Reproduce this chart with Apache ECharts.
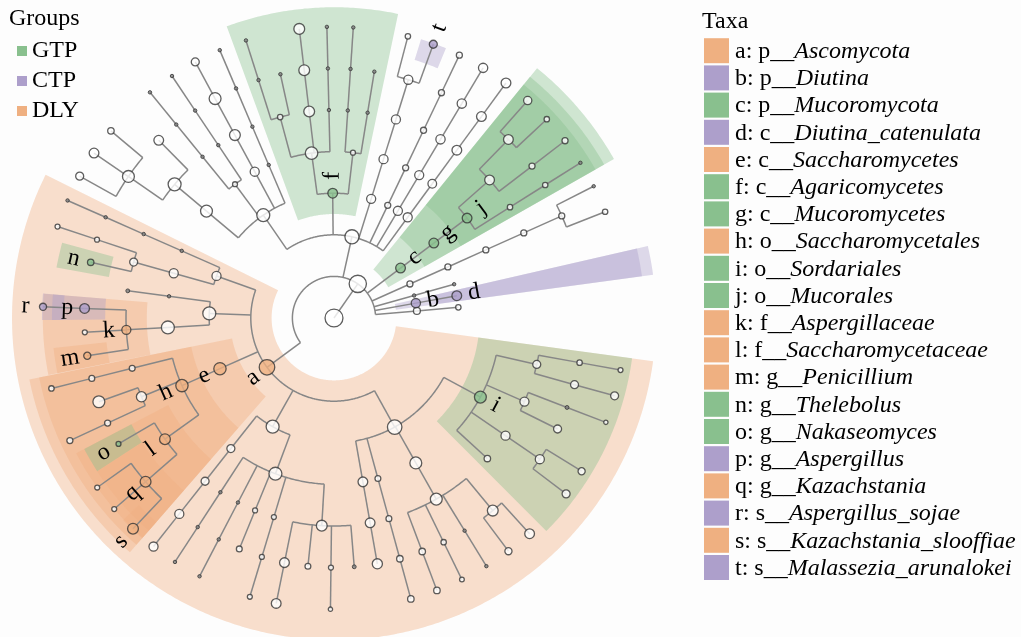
<!DOCTYPE html>
<html>
<head>
<meta charset="utf-8">
<title>Cladogram</title>
<script src="https://cdn.jsdelivr.net/npm/echarts@6.0.0/dist/echarts.min.js"></script>
<style>
html, body { margin: 0; padding: 0; background: #fdfdfd; }
#chart { width: 1021px; height: 637px; }
</style>
</head>
<body>
<div id="chart"></div>
<script>
// ---------------- data ----------------
const groupNames = ['GTP', 'CTP', 'DLY'];

// Biomarker taxa (letter, rank prefix, taxon, enriched group)
const markerLetters = ['a','b','c','d','e','f','g','h','i','j','k','l','m','n','o','p','q','r','s','t'];
const markerRanks = ['p','p','p','c','c','c','c','o','o','o','f','f','g','g','g','g','g','s','s','s'];
const markerNames = ['Ascomycota','Diutina','Mucoromycota','Diutina_catenulata','Saccharomycetes',
  'Agaricomycetes','Mucoromycetes','Saccharomycetales','Sordariales','Mucorales','Aspergillaceae',
  'Saccharomycetaceae','Penicillium','Thelebolus','Nakaseomyces','Aspergillus','Kazachstania',
  'Aspergillus_sojae','Kazachstania_slooffiae','Malassezia_arunalokei'];
const markerGroups = ['DLY','CTP','GTP','CTP','DLY','GTP','GTP','DLY','GTP','GTP','DLY','DLY','DLY',
  'GTP','GTP','CTP','DLY','CTP','DLY','CTP'];

// Taxonomy tree: [taxon, parent, log abundance, leaf angle in degrees]
const coreNodes = [
  ['root', null, 8.3],
  ['Fungi', 'root', 8]
];
const minorPhyla = [
  ['u1_p', 'Fungi', 3.2], ['u1_c', 'u1_p', 2.5, 4.9],
  ['Diutina', 'Fungi', 4.3], ['Diutina_catenulata', 'Diutina', 4.5, 10.3],
  ['u2_p', 'Fungi', 1.6], ['u2_c', 'u2_p', 1.6, 15.7],
  ['u3_p', 'Fungi', 2.8], ['u3_c', 'u3_p', 2.8], ['u3_o', 'u3_c', 2.8], ['u3_f', 'u3_o', 2.8],
  ['u3_g', 'u3_f', 2.8], ['u3_s1', 'u3_g', 2.5, 21.4], ['u3_s2', 'u3_g', 1.6, 26.9]
];
const mucoromycota = [
  ['Mucoromycota', 'Fungi', 4.5], ['Mucoromycetes', 'Mucoromycota', 4.5], ['Mucorales', 'Mucoromycetes', 4.5],
  ['mu_f1', 'Mucorales', 4.5], ['mu_g1', 'mu_f1', 4.5], ['mu_s1', 'mu_g1', 3.8, 48.3], ['mu_s2', 'mu_g1', 2.5, 43.05],
  ['mu_g2', 'mu_f1', 2.8], ['mu_s3', 'mu_g2', 2.8, 37.5],
  ['mu_f2', 'Mucorales', 2.5], ['mu_g3', 'mu_f2', 2.5], ['mu_s4', 'mu_g3', 1.6, 32.2]
];
const basidiomycota = [
  ['Basidiomycota', 'Fungi', 6.5],
  ['bd_c', 'Basidiomycota', 4.2], ['bd_o', 'bd_c', 4], ['bd_f', 'bd_o', 4.5], ['bd_g', 'bd_f', 4.5], ['bd_s', 'bd_g', 4.5, 53.8],
  ['bc_c', 'Basidiomycota', 4.2], ['bc_o', 'bc_c', 4.2], ['bc_f', 'bc_o', 4.3], ['bc_g', 'bc_f', 4.3], ['bc_s', 'bc_g', 4.3, 59.2],
  ['bb_c', 'Basidiomycota', 2.8], ['bb_o', 'bb_c', 2.8], ['bb_f', 'bb_o', 2.8], ['bb_g', 'bb_f', 2.8], ['bb_s', 'bb_g', 2.8, 64.5],
  ['ba_c', 'Basidiomycota', 4.2], ['ba_o', 'ba_c', 4.2], ['ba_f', 'ba_o', 4.2], ['ba_g', 'ba_f', 4.2],
  ['ba_s', 'ba_g', 2.5, 75.3], ['Malassezia_arunalokei', 'ba_g', 3.7, 70.06],
  ['Agaricomycetes', 'Basidiomycota', 4.5],
  ['ag_o1', 'Agaricomycetes', 2.3], ['ag_f1', 'ag_o1', 1.6], ['ag_g1', 'ag_f1', 1.6, 80.7],
  ['ag_f2', 'ag_o1', 1.6], ['ag_g2', 'ag_f2', 1.6], ['ag_s2', 'ag_g2', 1.6, 86.2],
  ['ag_o2', 'Agaricomycetes', 5.8], ['ag_f3', 'ag_o2', 1.6], ['ag_g3', 'ag_f3', 1.6], ['ag_s3', 'ag_g3', 1.6, 91.4],
  ['ag_f4', 'ag_o2', 5], ['ag_g4', 'ag_f4', 5], ['ag_s4', 'ag_g4', 5, 96.85],
  ['ag_f5', 'ag_o2', 2.5], ['ag_g5', 'ag_f5', 1.6, 102.4], ['ag_g6', 'ag_f5', 1.6], ['ag_s6', 'ag_g6', 1.6, 107.6],
  ['by_c', 'Basidiomycota', 6],
  ['by_o1', 'by_c', 1.6], ['by_f1', 'by_o1', 1.6], ['by_g1', 'by_f1', 1.6], ['by_s1', 'by_g1', 1.6, 113.1],
  ['by_o2', 'by_c', 4.2], ['by_f2', 'by_o2', 5], ['by_g2', 'by_f2', 5.5], ['by_s2', 'by_g2', 3.7, 118.45],
  ['by_o3', 'by_c', 2.3], ['by_f3', 'by_o3', 1.6], ['by_g3', 'by_f3', 1.6], ['by_s3', 'by_g3', 1.6, 123.8],
  ['by_f4', 'by_o3', 1.6], ['by_g4', 'by_f4', 1.6], ['by_s4', 'by_g4', 1.6, 129.2],
  ['by_o4', 'by_c', 5.5], ['by_f5', 'by_o4', 6], ['by_g5', 'by_f5', 4.5, 134.6], ['by_g6', 'by_f5', 5.5],
  ['by_s6a', 'by_g6', 3, 140.0], ['by_s6b', 'by_g6', 4.5, 145.5], ['by_s6c', 'by_g6', 3.7, 150.85]
];
const ascomycota = [
  ['Ascomycota', 'Fungi', 7.2],
  ['as_c1', 'Ascomycota', 4.2],
  ['as_o1', 'as_c1', 1.6], ['as_f1', 'as_o1', 1.6], ['as_g1', 'as_f1', 1.6], ['as_s1', 'as_g1', 1.6, 156.2],
  ['as_o2', 'as_c1', 4.2], ['as_f2', 'as_o2', 3.7], ['as_g2', 'as_f2', 2.3], ['as_s2', 'as_g2', 2.3, 161.7],
  ['Thelebolus', 'as_f2', 3, 167.1],
  ['as_c2', 'Ascomycota', 6],
  ['as_o3', 'as_c2', 1.6], ['as_f3', 'as_o3', 1.8, 172.5],
  ['as_o4', 'as_c2', 6], ['Aspergillaceae', 'as_o4', 4.2], ['Aspergillus', 'Aspergillaceae', 4.5],
  ['Aspergillus_sojae', 'Aspergillus', 3.3, 177.8], ['as_g4', 'Aspergillaceae', 2.3, 183.3],
  ['Penicillium', 'Aspergillaceae', 3.3, 188.7],
  ['Saccharomycetes', 'Ascomycota', 5.7], ['Saccharomycetales', 'Saccharomycetes', 5.7],
  ['sa_f1', 'Saccharomycetales', 2.7], ['sa_g1', 'sa_f1', 2.7], ['sa_s1', 'sa_g1', 2.5, 194.0],
  ['sa_f2', 'Saccharomycetales', 4.7], ['sa_g2', 'sa_f2', 5.5, 199.6], ['sa_g3', 'sa_f2', 2.8], ['sa_s3', 'sa_g3', 2.8, 204.9],
  ['Saccharomycetaceae', 'Saccharomycetales', 5], ['Nakaseomyces', 'Saccharomycetaceae', 2.3, 210.3],
  ['Kazachstania', 'Saccharomycetaceae', 5], ['ka_s1', 'Kazachstania', 2.3, 215.6], ['ka_s2', 'Kazachstania', 2.3, 221.0],
  ['Kazachstania_slooffiae', 'Kazachstania', 5, 226.35],
  ['as_c4', 'Ascomycota', 6],
  ['as_o5', 'as_c4', 3.7], ['as_f5', 'as_o5', 3.7], ['as_g5', 'as_f5', 4.2], ['as_s5', 'as_g5', 4.2, 231.7],
  ['as_o6', 'as_c4', 6],
  ['as_f6', 'as_o6', 1.6], ['as_g6', 'as_f6', 1.6], ['as_s6', 'as_g6', 1.6, 236.9],
  ['as_f7', 'as_o6', 1.6], ['as_g7', 'as_f7', 1.6], ['as_s7', 'as_g7', 1.6, 242.5],
  ['as_f8', 'as_o6', 2.3], ['as_g8', 'as_f8', 2.7, 247.7],
  ['as_f9', 'as_o6', 2.3], ['as_g9', 'as_f9', 2.3], ['as_s9', 'as_g9', 2.3, 253.2],
  ['as_f10', 'as_o6', 5], ['as_g10', 'as_f10', 4.5], ['as_s10', 'as_g10', 4.5, 258.55],
  ['as_g11', 'as_f10', 2.7, 264.0], ['as_g12', 'as_f10', 2.3], ['as_s12', 'as_g12', 2, 269.3],
  ['as_g13', 'as_f10', 1.8, 274.65],
  ['as_c5', 'Ascomycota', 6.7],
  ['as_o7', 'as_c5', 4.5], ['as_f14', 'as_o7', 4.5], ['as_g14', 'as_f14', 4.7, 280.0],
  ['as_o8', 'as_c5', 2.7], ['as_f15', 'as_o8', 2.7], ['as_g15', 'as_f15', 3], ['as_s15', 'as_g15', 3, 285.3],
  ['as_o9', 'as_c5', 5.5], ['as_f16', 'as_o9', 5.5],
  ['as_g16', 'as_f16', 3], ['as_s16', 'as_g16', 3, 290.7],
  ['as_g17', 'as_f16', 2.5], ['as_s17', 'as_g17', 2.2, 296.06],
  ['as_g18', 'as_f16', 1.6], ['as_s18', 'as_g18', 1.6, 301.55],
  ['as_g19', 'as_f16', 5], ['as_s19a', 'as_g19', 3.3, 306.8], ['as_s19b', 'as_g19', 4.5, 312.2],
  ['Sordariales', 'as_c5', 5.5],
  ['so_f1', 'Sordariales', 3, 317.5],
  ['so_f2', 'Sordariales', 4.2], ['so_g2', 'so_f2', 4.2], ['so_s2a', 'so_g2', 3.7, 322.85], ['so_s2b', 'so_g2', 3.3, 328.25],
  ['so_f3', 'Sordariales', 4.2], ['so_g3', 'so_f3', 3.7, 333.6], ['so_g4', 'so_f3', 1.8], ['so_s4', 'so_g4', 2, 339.0],
  ['so_f5', 'Sordariales', 3.7], ['so_g5', 'so_f5', 3.7], ['so_s5', 'so_g5', 3.7, 344.5],
  ['so_g6', 'so_f5', 2.5], ['so_s6', 'so_g6', 2.3, 349.7]
];

// ---------------- styling ----------------
const groupColors = { GTP: '#89c08e', CTP: '#ad9fcb', DLY: '#efb081' };
const SERIF = '"Liberation Serif", "Times New Roman", serif';
const LINE_COLOR = '#878787';
const EDGE_COLOR = '#353535';
const NODE_SCALE = 2.16;  // abundance -> circle diameter in px
// outer edge (in levels) of highlighted sectors by rank: phylum .. species
const sectorOuter = { 2: 7.74, 3: 7.47, 4: 7.23, 5: 7.0, 6: 6.78, 7: 7.02 };
const SECTOR_PAD = 2.6;   // degrees added on both sides of a clade
const LABEL_GAP = 0.42;   // letters sit this far (in levels) outside their node

// ---------------- tree layout ----------------
const allNodes = [].concat(coreNodes, minorPhyla, mucoromycota, basidiomycota, ascomycota);
const byId = {};
allNodes.forEach(([id, parent, abund, angle]) => {
  byId[id] = { id, parent, abund, angle: angle === undefined ? null : angle, children: [] };
});
allNodes.forEach(([id, parent]) => { if (parent) byId[parent].children.push(byId[id]); });

function layout(node, level) {
  node.level = level;
  if (node.children.length) {
    node.children.forEach(c => layout(c, level + 1));
    const ang = node.children.map(c => c.angle);
    node.angle = ang.reduce((s, v) => s + v, 0) / ang.length;
    node.childMin = Math.min(...ang);
    node.childMax = Math.max(...ang);
    node.leafMin = Math.min(...node.children.map(c => c.leafMin));
    node.leafMax = Math.max(...node.children.map(c => c.leafMax));
  } else {
    node.leafMin = node.leafMax = node.angle;
  }
}
layout(byId.root, 0);

const markerGroupOf = {};
markerNames.forEach((n, i) => { markerGroupOf[n] = markerGroups[i]; });

const radialData = [];
const arcData = [];
const nodeData = [];
Object.values(byId).forEach(n => {
  if (n.parent) radialData.push([byId[n.parent].level, n.level, n.angle]);
  if (n.children.length > 1) arcData.push([n.level, n.childMin, n.childMax]);
  const g = markerGroupOf[n.id];
  const dot = n.abund < 2;
  nodeData.push({
    value: [n.level, n.angle],
    symbolSize: n.abund * NODE_SCALE,
    itemStyle: {
      color: g ? groupColors[g] : (dot ? '#808080' : '#ffffff'),
      borderColor: EDGE_COLOR,
      borderWidth: dot ? 1 : 1.3
    }
  });
});
// larger circles drawn last
nodeData.sort((a, b) => a.symbolSize - b.symbolSize);

function sectorData(group) {
  const rows = [];
  markerNames.forEach((name, i) => {
    if (markerGroups[i] !== group) return;
    const n = byId[name];
    rows.push([n.level - 0.5, sectorOuter[n.level], n.leafMin - SECTOR_PAD, n.leafMax + SECTOR_PAD, n.level]);
  });
  rows.sort((a, b) => a[4] - b[4]);
  return rows;
}

const labelData = markerNames.map((name, i) => {
  const n = byId[name];
  return [n.level + LABEL_GAP, n.angle, i];
});

// ---------------- render helpers ----------------
function arcPoints(api, r, a0, a1) {
  const steps = Math.max(2, Math.ceil(Math.abs(a1 - a0) / 0.5));
  const pts = [];
  for (let k = 0; k <= steps; k++) pts.push(api.coord([r, a0 + (a1 - a0) * k / steps]));
  return pts;
}

function sectorSeries(group, z) {
  return {
    name: group,
    type: 'custom',
    coordinateSystem: 'polar',
    silent: true,
    z: z,
    itemStyle: { color: groupColors[group] },
    encode: { radius: 0, angle: 2 },
    data: sectorData(group),
    renderItem: function (params, api) {
      const r0 = api.value(0), r1 = api.value(1), a0 = api.value(2), a1 = api.value(3);
      const outer = arcPoints(api, r1, a0, a1);
      const inner = arcPoints(api, r0, a1, a0);
      return {
        type: 'polygon',
        z2: api.value(4),
        shape: { points: outer.concat(inner) },
        style: { fill: groupColors[group], opacity: 0.4 }
      };
    }
  };
}

const chart = echarts.init(document.getElementById('chart'), null, { renderer: 'canvas' });

// taxa legend (right)
const taxaGraphics = [{
  type: 'text', x: 702, y: 22,
  style: { text: 'Taxa', fontSize: 24, fontFamily: SERIF, fill: '#000', verticalAlign: 'middle' }
}];
markerLetters.forEach((ch, i) => {
  const cy = 50.7 + 27.2 * i;
  taxaGraphics.push({
    type: 'rect',
    shape: { x: 704, y: cy - 12.5, width: 25, height: 25 },
    style: { fill: groupColors[markerGroups[i]] }
  });
  taxaGraphics.push({
    type: 'text', x: 735, y: cy + 1,
    style: {
      text: '{r|' + ch + ': ' + markerRanks[i] + '__}{i|' + markerNames[i] + '}',
      verticalAlign: 'middle',
      rich: {
        r: { fontSize: 24, fontFamily: SERIF, fill: '#000' },
        i: { fontSize: 24, fontFamily: SERIF, fontStyle: 'italic', fill: '#000' }
      }
    }
  });
});

chart.setOption({
  animation: false,
  backgroundColor: '#fdfdfd',
  title: {
    text: 'Groups', left: 9, top: 7, padding: 0,
    textStyle: { fontSize: 24, fontWeight: 'normal', fontFamily: SERIF, color: '#000' }
  },
  legend: {
    data: groupNames,
    orient: 'vertical',
    left: 17, top: 39, padding: 0,
    icon: 'rect', itemWidth: 10, itemHeight: 10, itemGap: 6,
    selectedMode: false,
    textStyle: { fontSize: 24, fontFamily: SERIF, color: '#000', lineHeight: 24 }
  },
  polar: { center: [334, 318], radius: 322.4 },
  angleAxis: { type: 'value', min: 0, max: 360, startAngle: 0, clockwise: false, show: false },
  radiusAxis: { type: 'value', min: 0, max: 7.75, show: false },
  graphic: taxaGraphics,
  series: [
    sectorSeries('DLY', 1),
    sectorSeries('CTP', 2),
    sectorSeries('GTP', 3),
    {
      type: 'custom', coordinateSystem: 'polar', silent: true, z: 4,
      encode: { radius: 1, angle: 2 },
      data: radialData,
      renderItem: function (params, api) {
        const p0 = api.coord([api.value(0), api.value(2)]);
        const p1 = api.coord([api.value(1), api.value(2)]);
        return { type: 'line', shape: { x1: p0[0], y1: p0[1], x2: p1[0], y2: p1[1] },
                 style: { stroke: LINE_COLOR, lineWidth: 1.5 } };
      }
    },
    {
      type: 'custom', coordinateSystem: 'polar', silent: true, z: 4,
      encode: { radius: 0, angle: 1 },
      data: arcData,
      renderItem: function (params, api) {
        return { type: 'polyline', shape: { points: arcPoints(api, api.value(0), api.value(1), api.value(2)) },
                 style: { stroke: LINE_COLOR, lineWidth: 1.5, fill: null } };
      }
    },
    {
      type: 'scatter', coordinateSystem: 'polar', silent: true, z: 5,
      symbol: 'circle',
      data: nodeData
    },
    {
      type: 'custom', coordinateSystem: 'polar', silent: true, z: 6,
      encode: { radius: 0, angle: 1 },
      data: labelData,
      renderItem: function (params, api) {
        const a = api.value(1);
        const p = api.coord([api.value(0), a]);
        const rot = (a < 100 || a > 270) ? a : a - 180;
        return {
          type: 'text', x: p[0], y: p[1], rotation: rot * Math.PI / 180,
          style: { text: markerLetters[api.value(2)], fontSize: 24, fontFamily: SERIF, fill: '#000',
                   align: 'center', verticalAlign: 'middle' }
        };
      }
    }
  ]
});
</script>
</body>
</html>
